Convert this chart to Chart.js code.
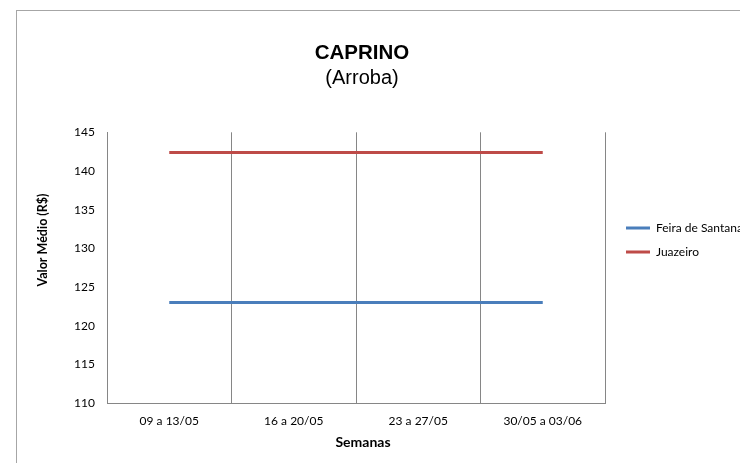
<!DOCTYPE html>
<html>
<head>
<meta charset="utf-8">
<script src="https://cdn.jsdelivr.net/npm/chart.js@4.4.0/dist/chart.umd.min.js"></script>
<style>
html, body { margin: 0; padding: 0; background: #fff; overflow: hidden; width: 740px; height: 463px; }
#frame { position: absolute; left: 16px; top: 10px; width: 800px; height: 520px; border: 1px solid #a6a6a6; box-sizing: border-box; }
#wrap { position: absolute; left: -16px; top: 0; }
</style>
</head>
<body>
<div id="frame"></div>
<div id="wrap"><canvas id="chart_caprino" width="756" height="480"></canvas></div>
<script>
// weekly average price (R$ per arroba)
const semanas = ['09 a 13/05', '16 a 20/05', '23 a 27/05', '30/05 a 03/06'];
const feiraDeSantana = [123.0, 123.0, 123.0, 123.0];
const juazeiro = [142.4, 142.4, 142.4, 142.4];
const yMin = 110;
const yMax = 145;
const yStep = 5;
const xTitle = 'Semanas';
const yTitle = 'Valor Médio (R$)';

const gray = '#868686';
const tickFont = { family: 'Lato', size: 12 };

// Excel centers the axis titles on the whole chart, not on the plot area
const axisTitles = {
    id: 'axisTitles',
    afterDraw(chart) {
        const ctx = chart.ctx;
        ctx.save();
        ctx.fillStyle = '#000';
        ctx.textAlign = 'center';
        ctx.textBaseline = 'middle';
        ctx.font = 'bold 14px Lato';
        ctx.fillText(xTitle, chart.width / 2 + 1, 442);
        ctx.font = 'bold 12.5px Lato';
        ctx.translate(58.5, chart.height / 2);
        ctx.rotate(-Math.PI / 2);
        ctx.fillText(yTitle, 0, 0);
        ctx.restore();
    }
};

let ctxCaprino = document.getElementById('chart_caprino').getContext('2d');
let chartCaprino = new Chart(ctxCaprino, {
    type: 'line',
    data: {
        labels: semanas,
        datasets: [{
            label: 'Feira de Santana',
            data: feiraDeSantana,
            borderColor: '#4A7EBB',
            backgroundColor: '#4A7EBB',
            borderWidth: 3,
            pointRadius: 0,
            xAxisID: 'x',
            yAxisID: 'y'
        }, {
            label: 'Juazeiro',
            data: juazeiro,
            borderColor: '#BE4B48',
            backgroundColor: '#BE4B48',
            borderWidth: 3,
            pointRadius: 0,
            xAxisID: 'x',
            yAxisID: 'y'
        }]
    },
    options: {
        responsive: false,
        animation: false,
        layout: { padding: 0 },
        plugins: {
            title: {
                display: true,
                text: 'CAPRINO',
                color: '#000',
                font: { family: 'Liberation Sans', size: 20.5, weight: 'bold' },
                padding: { top: 41.4, bottom: 0 }
            },
            subtitle: {
                display: true,
                text: '(Arroba)',
                color: '#000',
                font: { family: 'Liberation Sans', size: 20, weight: 'normal' },
                padding: { top: 0, bottom: 42.3 }
            },
            legend: {
                position: 'right',
                align: 'center',
                labels: {
                    boxWidth: 24,
                    boxHeight: 0,
                    padding: 12,
                    color: '#000',
                    font: tickFont
                }
            },
            tooltip: { enabled: false }
        },
        scales: {
            x: {
                offset: true,
                grid: { display: true, offset: true, drawTicks: false, color: gray },
                border: { display: true, color: gray },
                ticks: { padding: 11, color: '#000', font: tickFont, maxRotation: 0, autoSkip: false },
                afterFit: function(scale) { scale.height = 77; }
            },
            y: {
                min: yMin,
                max: yMax,
                grid: { display: false, drawTicks: false },
                border: { display: true, color: gray },
                ticks: { stepSize: yStep, padding: 12, color: '#000', font: tickFont },
                afterFit: function(scale) { scale.width = 123; }
            },
            gap: {
                position: 'right',
                display: true,
                grid: { display: false },
                border: { display: false },
                ticks: { display: false },
                afterFit: function(scale) { scale.width = 9; }
            }
        }
    },
    plugins: [axisTitles]
});
</script>
</body>
</html>
